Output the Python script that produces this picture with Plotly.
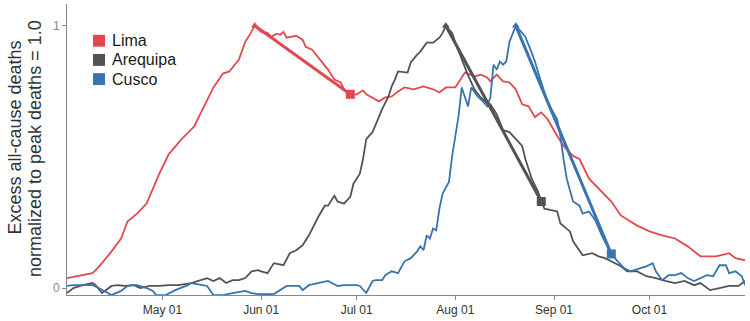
import plotly.graph_objects as go
import pandas as pd

base = pd.Timestamp("2020-04-01")

# days since 2020-04-01, normalized excess deaths (peak = 1.0)
lima_day = [0,5,8,9,11,14,17,19,22,25,27,29,32,36,40,43,44,46,49,51,54,56,57,59,61,63,64,66,67,68,
            69,71,72,74,75,77,79,82,84,86,87,89,91,93,94,96,98,100,102,104,106,109,112,115,117,119,122,125,128,130,
            132,133,135,137,139,141,143,145,147,149,151,154,156,159,161,164,167,171,174,179,183,187,191,195,199,204,208,210,213]
lima_val = [0.038,0.049,0.057,0.068,0.095,0.14,0.189,0.254,0.284,0.322,0.379,0.436,0.511,0.568,0.617,0.693,0.72,0.765,0.818,0.826,
            0.871,0.939,0.958,1.0,0.977,0.973,0.958,0.97,0.966,0.977,0.955,0.958,0.962,0.947,0.92,0.909,0.879,0.833,0.795,0.784,
            0.758,0.739,0.739,0.754,0.739,0.727,0.712,0.727,0.731,0.75,0.765,0.758,0.769,0.758,0.746,0.765,0.765,0.822,0.807,0.814,
            0.803,0.788,0.814,0.788,0.784,0.758,0.701,0.693,0.652,0.67,0.644,0.58,0.542,0.504,0.492,0.417,0.379,0.33,0.277,0.239,
            0.216,0.201,0.189,0.159,0.121,0.121,0.133,0.114,0.106]

arequipa_day = [0,2,5,8,9,11,14,16,18,21,23,26,29,32,35,39,42,44,46,48,50,52,54,56,58,60,61,63,64,65,
                68,70,72,74,76,79,81,82,84,85,87,89,90,92,93,94,96,99,101,102,103,104,107,108,110,111,113,115,117,118,
                119,121,122,124,126,128,130,132,133,135,137,139,141,143,144,146,148,149,150,154,155,158,159,162,165,167,169,171,174,176,
                179,182,185,188,191,194,197,199,202,205,208,211,213]
arequipa_val = [-0.019,0.0,0.011,0.019,0.011,-0.019,0.008,0.011,0.008,0.011,0.0,0.008,0.008,0.011,0.011,0.019,0.03,0.038,0.027,0.038,
                0.019,0.03,0.03,0.038,0.064,0.068,0.064,0.057,0.076,0.095,0.087,0.133,0.144,0.163,0.201,0.273,0.314,0.314,0.352,0.33,
                0.322,0.348,0.398,0.436,0.492,0.568,0.595,0.682,0.731,0.769,0.795,0.826,0.822,0.86,0.89,0.902,0.936,0.936,0.955,0.973,
                1.0,0.973,0.936,0.871,0.811,0.758,0.727,0.705,0.701,0.663,0.602,0.595,0.568,0.542,0.492,0.417,0.367,0.33,0.303,0.292,
                0.246,0.216,0.178,0.125,0.133,0.121,0.114,0.102,0.083,0.064,0.064,0.045,0.038,0.027,0.019,0.027,0.011,0.019,-0.008,0.0,
                0.008,0.008,0.027]

cusco_day = [0,2,5,8,10,13,14,17,19,21,22,25,27,28,31,34,38,39,42,44,46,49,52,56,58,60,65,67,69,73,
             74,76,79,82,85,87,89,91,92,94,96,97,99,100,102,104,106,108,110,111,112,113,114,115,116,117,118,120,121,123,
             124,126,127,129,130,132,133,134,135,136,137,138,139,141,143,144,146,147,149,151,154,155,156,157,159,161,162,164,166,168,
             170,171,173,175,177,180,182,184,185,187,189,191,193,195,197,201,203,205,207,208,210,212,213]
cusco_val = [0.008,0.011,0.011,0.011,0.0,-0.019,-0.027,-0.011,0.008,0.011,0.011,0.0,-0.011,-0.027,-0.027,-0.008,0.011,0.019,0.011,0.008,
             -0.027,-0.027,-0.019,-0.011,-0.019,-0.023,-0.023,-0.008,0.008,0.008,-0.008,0.011,0.019,0.027,0.008,0.011,0.011,0.011,0.008,-0.019,
             0.027,0.03,0.03,0.049,0.064,0.057,0.102,0.114,0.14,0.159,0.144,0.201,0.189,0.227,0.22,0.303,0.36,0.405,0.504,0.655,
             0.765,0.693,0.765,0.731,0.72,0.693,0.727,0.852,0.833,0.864,0.852,0.864,0.939,1.0,0.973,0.958,0.898,0.864,0.784,0.708,
             0.644,0.58,0.492,0.417,0.33,0.314,0.284,0.292,0.258,0.201,0.152,0.13,0.102,0.076,0.064,0.076,0.083,0.095,0.064,0.03,
             0.049,0.049,0.057,0.038,0.027,0.049,0.045,0.087,0.087,0.057,0.064,0.045,0.011]

series_names = ["Lima", "Arequipa", "Cusco"]
series_colors = ["#E3484E", "#505459", "#3A74AE"]
decline_window = 30  # days after peak

tick_dates = ["2020-05-01", "2020-06-01", "2020-07-01", "2020-08-01", "2020-09-01", "2020-10-01"]
tick_text = ["May 01", "Jun 01", "Jul 01", "Aug 01", "Sep 01", "Oct 01"]

def to_dates(days):
    return [base + pd.Timedelta(days=d) for d in days]

fig = go.Figure()
data = [(lima_day, lima_val), (arequipa_day, arequipa_val), (cusco_day, cusco_val)]

for (days, vals), name, col in zip(data, series_names, series_colors):
    x = to_dates(days)
    fig.add_trace(go.Scatter(x=x, y=vals, mode="lines", name=name,
                             line=dict(color=col, width=1.8), showlegend=False))
for (days, vals), name, col in zip(data, series_names, series_colors):
    i_peak = max(range(len(vals)), key=lambda i: vals[i])
    d_end = days[i_peak] + decline_window
    i_end = days.index(d_end)
    xp = to_dates([days[i_peak], days[i_end]])
    fig.add_trace(go.Scatter(x=xp, y=[vals[i_peak], vals[i_end]], mode="lines",
                             line=dict(color=col, width=3), showlegend=False))
    fig.add_trace(go.Scatter(x=[xp[0]], y=[vals[i_peak]], mode="markers",
                             marker=dict(symbol="triangle-up", size=7, color=col), showlegend=False))
    fig.add_trace(go.Scatter(x=[xp[1]], y=[vals[i_end]], mode="markers",
                             marker=dict(symbol="square", size=9, color=col), showlegend=False))

# custom legend (layout positions in paper coordinates)
W, H = 678.0, 293.0
for k, (name, col) in enumerate(zip(series_names, series_colors)):
    cy = 41 + 19.3 * k
    fig.add_shape(type="rect", xref="paper", yref="paper",
                  x0=(93 - 67) / W, x1=(105 - 67) / W,
                  y0=(297 - (cy + 6)) / H, y1=(297 - (cy - 6)) / H,
                  fillcolor=col, line=dict(width=0))
    fig.add_annotation(xref="paper", yref="paper", x=(110 - 67) / W, y=(297 - cy) / H,
                       text=name, showarrow=False, xanchor="left", yanchor="middle",
                       font=dict(size=16, color="#1a1a1a", family="Liberation Sans, Arial"))

# y-axis title (two lines)
fig.add_annotation(xref="paper", yref="paper", x=(15 - 67) / W, y=(297 - 138.5) / H,
                   text="Excess all-cause deaths", textangle=-90, showarrow=False,
                   xanchor="center", yanchor="middle",
                   font=dict(size=18, color="#333333", family="Liberation Sans, Arial"))
fig.add_annotation(xref="paper", yref="paper", x=(35 - 67) / W, y=(297 - 150) / H,
                   text="normalized to peak deaths = 1.0", textangle=-90, showarrow=False,
                   xanchor="center", yanchor="middle",
                   font=dict(size=18, color="#333333", family="Liberation Sans, Arial"))

fig.update_layout(
    width=750, height=321,
    margin=dict(l=67, r=5, t=4, b=24),
    paper_bgcolor="white", plot_bgcolor="white",
    font=dict(family="Liberation Sans, Arial", size=12, color="#333333"),
    xaxis=dict(range=["2020-04-01", "2020-10-31"], tickvals=tick_dates, ticktext=tick_text,
               showgrid=False, zeroline=False, showline=True, linecolor="#888888", linewidth=1,
               ticks="outside", ticklen=4, tickcolor="#888888",
               tickfont=dict(size=12, color="#333333")),
    yaxis=dict(range=[-0.0265, 1.0833], tickvals=[0, 1], ticktext=["0", "1"],
               showgrid=False, zeroline=False, showline=True, linecolor="#888888", linewidth=1,
               ticks="outside", ticklen=4, tickcolor="#888888",
               tickfont=dict(size=12, color="#888888")),
)

fig.write_html("out.html", config={"displayModeBar": False},
               post_script="document.body.style.margin='0';document.body.style.overflow='hidden';")
